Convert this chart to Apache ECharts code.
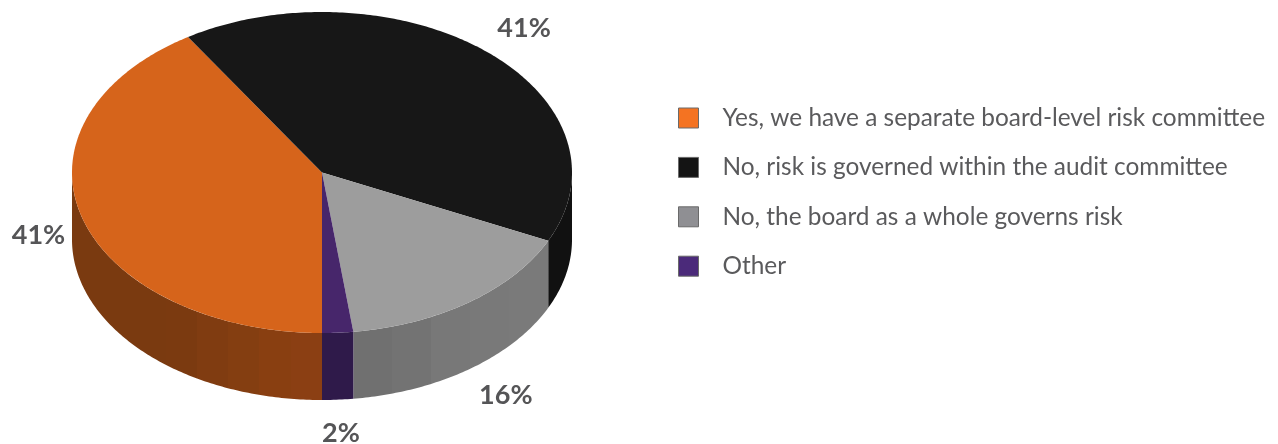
<!DOCTYPE html>
<html>
<head>
<meta charset="utf-8">
<style>html,body{margin:0;padding:0;background:#fff}#chart{width:1278px;height:444px}</style>
<script src="https://cdn.jsdelivr.net/npm/echarts@6/dist/echarts.min.js"></script>
</head>
<body>
<div id="chart"></div>
<script>
// Survey answers, in percent, clockwise from the front of the pie
const categories = [
  'Yes, we have a separate board-level risk committee',
  'No, risk is governed within the audit committee',
  'No, the board as a whole governs risk',
  'Other'
];
const shares = [41, 41, 16, 2];

const topColors = ['#d6641b', '#171717', '#9d9d9d', '#47266b'];
const legendColors = ['#f47322', '#141414', '#8f8f93', '#4b2a7a'];
// Rim shading, listed left to right; each shade is a flat band of equal width
const wallShades = [
  ['#7a3a10', '#7a3a10', '#7a3a10', '#7b3a10', '#803c11', '#843e11', '#893f11', '#8b3f13'],
  ['#111111'],
  ['#707070', '#737373', '#787878', '#797979', '#7a7a7a'],
  ['#2f1a4a']
];

// Pie geometry in pixels
const CX = 322, CY = 172.5, RX = 250, RY = 160.5, DEPTH = 67;
const LABEL_RADIUS = 1.21;
// Small per-label shifts so the percentages clear the rim
const labelShift = [[7, 0], [2, 1], [6, -1], [0, 0]];
const total = shares.reduce((a, b) => a + b, 0);

const startAngles = [];
shares.reduce((sum, v, i) => { startAngles[i] = sum; return sum + v; }, 0);

// Angle is measured clockwise on screen from the nearest point of the ellipse
const toAngle = v => v / total * Math.PI * 2;
const rimX = a => CX - RX * Math.sin(a);
const rimY = a => CY + RY * Math.cos(a);

function arcPoints(a0, a1) {
  const n = Math.max(2, Math.ceil(Math.abs(a1 - a0) * 80));
  const pts = [];
  for (let i = 0; i <= n; i++) {
    const a = a0 + (a1 - a0) * i / n;
    pts.push([rimX(a), rimY(a)]);
  }
  return pts;
}

// Clips a slice to the near half of the ellipse, where the rim can be seen
function nearSpans(a0, a1) {
  const hp = Math.PI / 2, out = [];
  const addSpan = (lo, hi) => {
    const s = Math.max(a0, lo), e = Math.min(a1, hi);
    if (e > s) out.push([s, e]);
  };
  addSpan(0, hp);
  addSpan(3 * hp, 4 * hp);
  return out;
}

function wallFill(idx, xs) {
  const shades = wallShades[idx];
  const stops = [];
  shades.forEach((c, i) => {
    stops.push({ offset: i / shades.length, color: c });
    stops.push({ offset: (i + 1) / shades.length, color: c });
  });
  return new echarts.graphic.LinearGradient(Math.min(...xs), 0, Math.max(...xs), 0, stops, true);
}

function renderSlice(params, api) {
  const idx = params.seriesIndex;
  const a0 = toAngle(api.value(0));
  const a1 = a0 + toAngle(api.value(1));
  const children = [];

  nearSpans(a0, a1).forEach(([s, e]) => {
    const top = arcPoints(s, e);
    const bottom = top.map(p => [p[0], p[1] + DEPTH]).reverse();
    children.push({
      type: 'polygon',
      shape: { points: top.concat(bottom) },
      style: { fill: wallFill(idx, top.map(p => p[0])) }
    });
  });

  children.push({
    type: 'polygon',
    shape: { points: [[CX, CY]].concat(arcPoints(a0, a1)) },
    style: { fill: topColors[idx] }
  });

  const mid = (a0 + a1) / 2;
  const c = Math.cos(mid);
  const drop = c > 0 ? DEPTH * Math.min(1, c * c * 1.6) : 0;
  children.push({
    type: 'text',
    style: {
      x: CX - RX * LABEL_RADIUS * Math.sin(mid) + labelShift[idx][0],
      y: CY + RY * LABEL_RADIUS * c + drop + labelShift[idx][1],
      text: api.value(1) + '%',
      fill: '#555557',
      font: 'bold 27px Lato, sans-serif',
      align: 'center',
      verticalAlign: 'middle'
    }
  });
  return { type: 'group', children };
}

const chart = echarts.init(document.getElementById('chart'), null, { renderer: 'canvas' });
chart.setOption({
  animation: false,
  backgroundColor: '#fff',
  legend: {
    orient: 'vertical',
    left: 678,
    top: 106,
    itemWidth: 20,
    itemHeight: 20,
    itemGap: 25.4,
    selectedMode: false,
    icon: 'rect',
    padding: 0,
    textStyle: { color: '#5a5a5c', fontSize: 24.4, lineHeight: 20, fontFamily: 'Lato, sans-serif', padding: [0, 0, 0, 19] },
    data: categories.map((name, i) => ({
      name,
      itemStyle: { color: legendColors[i], borderColor: '#6a6a6a', borderWidth: 1 }
    }))
  },
  series: categories.map((name, i) => ({
    type: 'custom',
    name,
    coordinateSystem: 'none',
    silent: true,
    itemStyle: { color: legendColors[i] },
    renderItem: renderSlice,
    data: [[startAngles[i], shares[i]]]
  }))
});
</script>
</body>
</html>
